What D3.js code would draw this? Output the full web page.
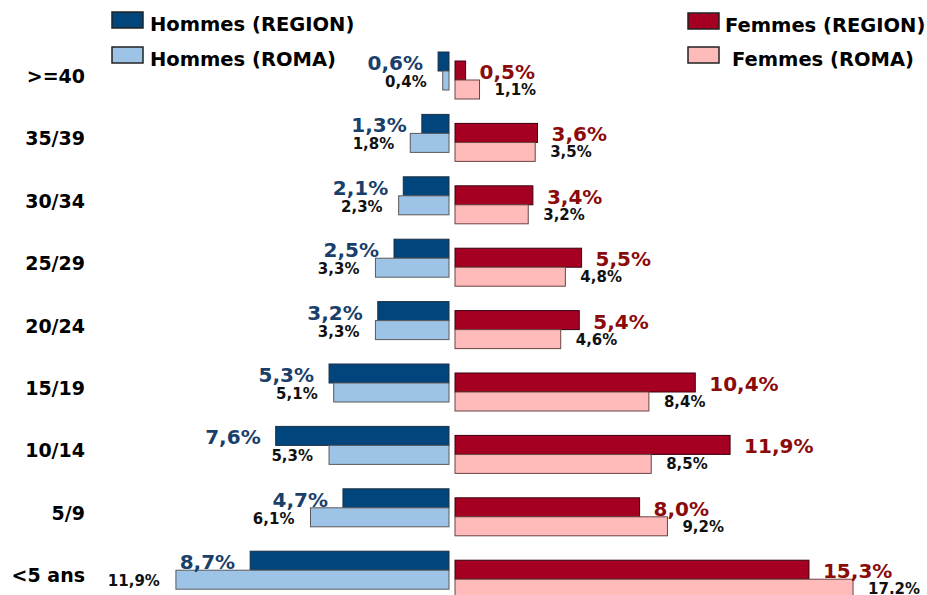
<!DOCTYPE html>
<html>
<head>
<meta charset="utf-8">
<script src="https://cdn.jsdelivr.net/npm/d3@7"></script>
<style>
  body { margin: 0; background: #fff; }
  text { font-family: "DejaVu Sans", Verdana, sans-serif; font-weight: bold; }
</style>
</head>
<body>
<div id="chart"></div>
<script>
// Age groups, top to bottom
const categories = ['>=40', '35/39', '30/34', '25/29', '20/24', '15/19', '10/14', '5/9', '<5 ans'];

// Percentages per series
const hommesRegion = [0.6, 1.3, 2.1, 2.5, 3.2, 5.3, 7.6, 4.7, 8.7];
const hommesRoma = [0.4, 1.8, 2.3, 3.3, 3.3, 5.1, 5.3, 6.1, 11.9];
const femmesRegion = [0.5, 3.6, 3.4, 5.5, 5.4, 10.4, 11.9, 8.0, 15.3];
const femmesRoma = [1.1, 3.5, 3.2, 4.8, 4.6, 8.4, 8.5, 9.2, 17.2];

// Labels as printed (the last ROMA female one uses a dot)
const hommesRegionLabels = ['0,6%', '1,3%', '2,1%', '2,5%', '3,2%', '5,3%', '7,6%', '4,7%', '8,7%'];
const hommesRomaLabels = ['0,4%', '1,8%', '2,3%', '3,3%', '3,3%', '5,1%', '5,3%', '6,1%', '11,9%'];
const femmesRegionLabels = ['0,5%', '3,6%', '3,4%', '5,5%', '5,4%', '10,4%', '11,9%', '8,0%', '15,3%'];
const femmesRomaLabels = ['1,1%', '3,5%', '3,2%', '4,8%', '4,6%', '8,4%', '8,5%', '9,2%', '17.2%'];

const W = 927, H = 595;
const svg = d3.select('#chart').append('svg')
    .attr('width', W)
    .attr('height', H);

// Horizontal scales, one per side
const leftEdge = 449, rightEdge = 455;
const xMale = d3.scaleLinear().domain([0, 12]).range([452, 452 - 12 * 23.2]);
const xFemale = d3.scaleLinear().domain([0, 18]).range([454, 454 + 18 * 23.2]);

// Vertical bands
const y = d3.scaleBand()
    .domain(categories)
    .range([52, 589.2])
    .paddingInner(0.391)
    .paddingOuter(0);
const sub = d3.scaleBand().domain(['region', 'roma']).range([0, y.bandwidth()]);
const femaleShift = 9;

const colors = {
  hReg: '#00457c', hRoma: '#9dc3e6', fReg: '#a50021', fRoma: '#ffbaba',
  hRegStroke: '#1d2f45', hRomaStroke: '#5a5a5a', fRegStroke: '#3a0010', fRomaStroke: '#6a4444'
};

const rows = categories.map((c, i) => ({
  cat: c,
  hReg: hommesRegion[i], hRoma: hommesRoma[i],
  fReg: femmesRegion[i], fRoma: femmesRoma[i],
  hRegL: hommesRegionLabels[i], hRomaL: hommesRomaLabels[i],
  fRegL: femmesRegionLabels[i], fRomaL: femmesRomaLabels[i]
}));

const g = svg.selectAll('.row')
    .data(rows)
    .enter()
    .append('g')
    .attr('class', 'row')
    .attr('transform', d => `translate(0,${y(d.cat)})`);

// Category labels
g.append('text')
    .attr('x', 85)
    .attr('y', 31)
    .attr('text-anchor', 'end')
    .style('font-size', '19px')
    .attr('fill', '#000')
    .text(d => d.cat);

// Male bars
g.append('rect')
    .attr('x', d => xMale(d.hReg))
    .attr('y', sub('region'))
    .attr('width', d => leftEdge - xMale(d.hReg))
    .attr('height', sub.bandwidth())
    .attr('fill', colors.hReg)
    .attr('stroke', colors.hRegStroke);

g.append('rect')
    .attr('x', d => xMale(d.hRoma))
    .attr('y', sub('roma'))
    .attr('width', d => leftEdge - xMale(d.hRoma))
    .attr('height', sub.bandwidth())
    .attr('fill', colors.hRoma)
    .attr('stroke', colors.hRomaStroke);

// Female bars
g.append('rect')
    .attr('x', rightEdge)
    .attr('y', sub('region') + femaleShift)
    .attr('width', d => xFemale(d.fReg) - rightEdge)
    .attr('height', sub.bandwidth())
    .attr('fill', colors.fReg)
    .attr('stroke', colors.fRegStroke);

g.append('rect')
    .attr('x', rightEdge)
    .attr('y', sub('roma') + femaleShift)
    .attr('width', d => xFemale(d.fRoma) - rightEdge)
    .attr('height', sub.bandwidth())
    .attr('fill', colors.fRoma)
    .attr('stroke', colors.fRomaStroke);

// Value labels
g.append('text')
    .attr('x', d => xMale(d.hReg) - 15)
    .attr('y', sub('roma') - 1)
    .attr('text-anchor', 'end')
    .style('font-size', '20px')
    .attr('fill', '#1b3f6b')
    .text(d => d.hRegL);

g.append('text')
    .attr('x', d => xMale(d.hRoma) - 16)
    .attr('y', sub('roma') + sub.bandwidth() - 3)
    .attr('text-anchor', 'end')
    .style('font-size', '15px')
    .attr('fill', '#111')
    .text(d => d.hRomaL);

g.append('text')
    .attr('x', d => xFemale(d.fReg) + 14)
    .attr('y', sub('roma') + femaleShift - 1)
    .style('font-size', '20px')
    .attr('fill', '#8b0a0a')
    .text(d => d.fRegL);

g.append('text')
    .attr('x', d => xFemale(d.fRoma) + 15)
    .attr('y', sub('roma') + sub.bandwidth() + femaleShift - 4)
    .style('font-size', '15px')
    .attr('fill', '#111')
    .text(d => d.fRomaL);

// Legend
const legendItems = [
  { label: 'Hommes (REGION)', fill: colors.hReg, x: 112, y: 12, tx: 150 },
  { label: 'Hommes (ROMA)', fill: colors.hRoma, x: 112, y: 47, tx: 150 },
  { label: 'Femmes (REGION)', fill: colors.fReg, x: 688, y: 13, tx: 725 },
  { label: 'Femmes (ROMA)', fill: colors.fRoma, x: 688, y: 47, tx: 732 }
];

const lg = svg.selectAll('.legend')
    .data(legendItems)
    .enter()
    .append('g')
    .attr('class', 'legend');

lg.append('rect')
    .attr('x', d => d.x)
    .attr('y', d => d.y)
    .attr('width', 31)
    .attr('height', 16)
    .attr('fill', d => d.fill)
    .attr('stroke', '#222')
    .attr('stroke-width', 1.5);

lg.append('text')
    .attr('x', d => d.tx)
    .attr('y', d => d.y + 19)
    .style('font-size', '19.5px')
    .attr('fill', '#000')
    .text(d => d.label);
</script>
</body>
</html>
